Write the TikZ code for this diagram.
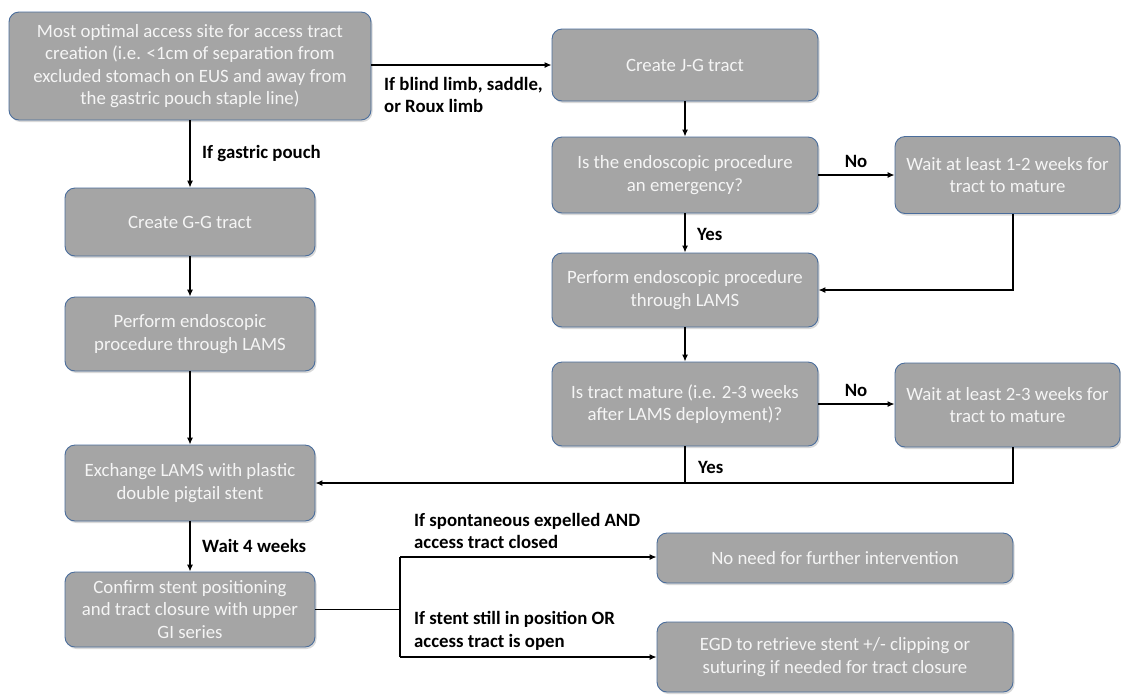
\documentclass[tikz,border=0pt]{standalone}
\usepackage{fontspec}
\setmainfont{Carlito}
\usetikzlibrary{arrows.meta,shadows,calc}
\definecolor{boxfill}{HTML}{A5A5A5}
\definecolor{boxline}{HTML}{4A6D9C}
\definecolor{boxtext}{HTML}{F5F5F5}
\begin{document}
\begin{tikzpicture}[x=1pt,y=-1pt,
  font=\fontsize{18.8}{22.5}\selectfont,
  box/.style={draw=boxline, line width=0.9pt, fill=boxfill, rounded corners=10pt,
    text=boxtext, align=center, inner sep=0pt,
    drop shadow={opacity=0.3, shadow xshift=1.5pt, shadow yshift=-2pt}},
  lbl/.style={font=\fontsize{18.8}{22.5}\selectfont\bfseries, align=left, inner sep=0pt, anchor=west},
  conn/.style={line width=1.2pt, black},
  arr/.style={conn, -{Latex[length=7pt,width=6pt]}}]
\useasboundingbox (0,0) rectangle (1121,694);

% left column
\node[box, minimum width=362pt, minimum height=108pt] (A) at (190,66)
  {Most optimal access site for access tract\\creation (i.e. <1cm of separation from\\excluded stomach on EUS and away from\\the gastric pouch staple line)};
\node[box, minimum width=250pt, minimum height=68pt] (E) at (190,222) {Create G-G tract};
\node[box, minimum width=250pt, minimum height=74pt] (F) at (190,334) {Perform endoscopic\\procedure through LAMS};
\node[box, minimum width=250pt, minimum height=76pt] (G) at (190,483) {Exchange LAMS with plastic\\double pigtail stent};
\node[box, minimum width=250pt, minimum height=75pt] (K) at (190,609.5) {Confirm stent positioning\\and tract closure with upper\\GI series};

% middle column
\node[box, minimum width=266pt, minimum height=72pt] (B) at (685,65) {Create J-G tract};
\node[box, minimum width=266pt, minimum height=76pt] (C) at (685,175) {Is the endoscopic procedure\\an emergency?};
\node[box, minimum width=266pt, minimum height=74pt] (H) at (685,290) {Perform endoscopic procedure\\through LAMS};
\node[box, minimum width=266pt, minimum height=84pt] (I) at (685,404) {Is tract mature (i.e. 2-3 weeks\\after LAMS deployment)?};

% right column
\node[box, minimum width=225pt, minimum height=77pt] (D) at (1007.5,175) {Wait at least 1-2 weeks for\\tract to mature};
\node[box, minimum width=225pt, minimum height=84pt] (J) at (1007.5,405) {Wait at least 2-3 weeks for\\tract to mature};

% bottom right
\node[box, minimum width=356pt, minimum height=50pt] (L) at (835,558) {No need for further intervention};
\node[box, minimum width=356pt, minimum height=70pt] (M) at (835,657) {EGD to retrieve stent +/- clipping or\\suturing if needed for tract closure};

% helper coordinates
\coordinate (join) at (685,483);
\coordinate (splitT) at (400,557);
\coordinate (splitB) at (400,657);

% connectors
\draw[arr] (A.east |- B.west) -- (B.west);
\draw[arr] (A) -- (E);
\draw[arr] (E) -- (F);
\draw[arr] (F) -- (G);
\draw[arr] (G) -- (K);
\draw[arr] (B) -- (C);
\draw[arr] (C) -- (H);
\draw[arr] (H) -- (I);
\draw[arr] (C.east) -- (C.east -| D.west);
\draw[arr] ([xshift=5.5pt]D.south) |- (H.east);
\draw[arr] (I.east) -- (I.east -| J.west);
\draw[conn] ([xshift=5.5pt]J.south) |- (join);
\draw[arr] (I.south) -- (join) -- (join -| G.east);
\draw[conn] (K.east) -- (K.east -| splitT);
\draw[conn] (splitT) -- (splitB);
\draw[arr] (splitT) -- (splitT -| L.west);
\draw[arr] (splitB) -- (splitB -| M.west);

% labels
\node[lbl] (l1) at (384,95) {If blind limb, saddle,\\or Roux limb};
\node[lbl] (l2) at (202,153) {If gastric pouch};
\node[lbl] (l3) at (202,546) {Wait 4 weeks};
\node[lbl] (l4) at (697,234) {Yes};
\node[lbl, anchor=center] (l5) at (856,161) {No};
\node[lbl, anchor=center] (l6) at (856,390) {No};
\node[lbl] (l7) at (698,467) {Yes};
\node[lbl] (l8) at (414,531) {If spontaneous expelled AND\\access tract closed};
\node[lbl] (l9) at (414,631) {If stent still in position OR\\access tract is open};
\end{tikzpicture}
\end{document}
